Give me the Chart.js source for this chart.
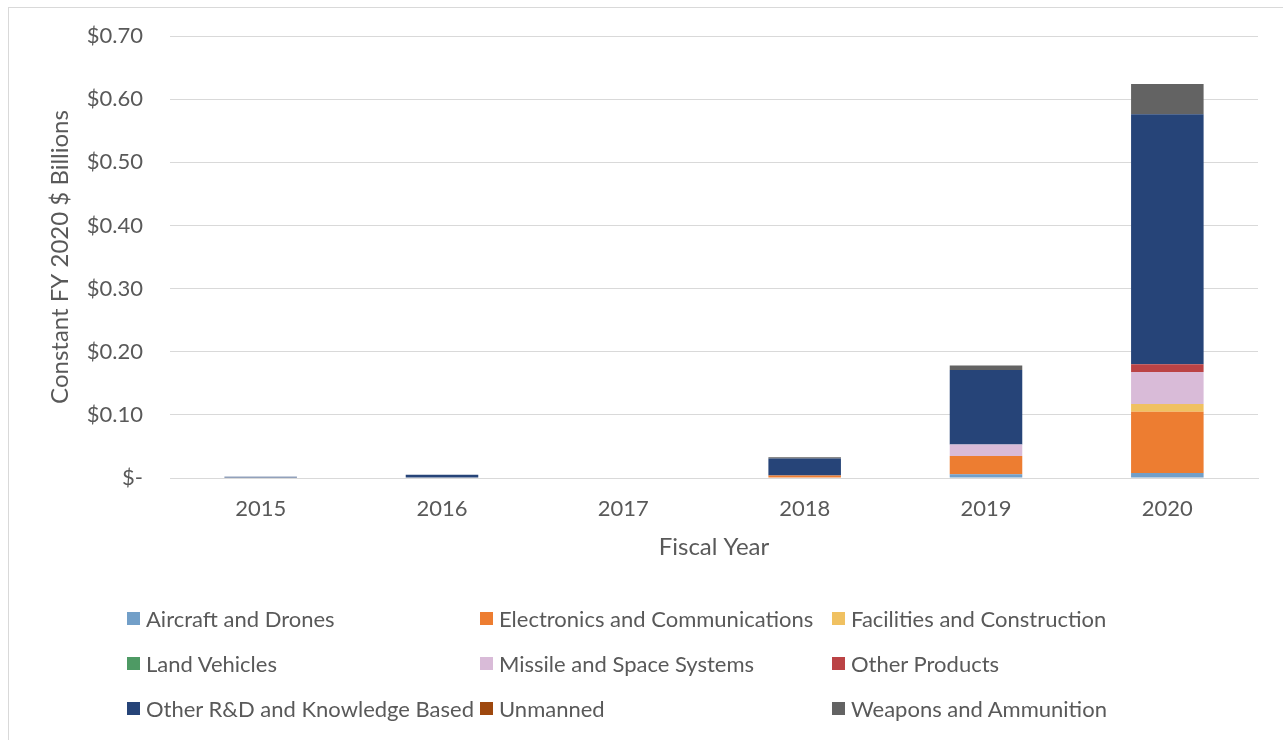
<!DOCTYPE html>
<html>
<head>
<meta charset="utf-8">
<script src="https://cdn.jsdelivr.net/npm/chart.js@4.4.1/dist/chart.umd.min.js"></script>
<style>
  html, body { margin: 0; padding: 0; background: #ffffff; }
  #wrap { position: relative; width: 1283px; height: 740px; overflow: hidden; }
  #frame { position: absolute; left: 8px; top: 7px; right: -2px; bottom: -2px; border-left: 1px solid #d9d9d9; border-top: 1px solid #d9d9d9; }
  canvas { position: absolute; left: 0; top: 0; }
  #legend { position: absolute; left: 127px; top: 603px; width: 1100px; display: grid; grid-template-columns: 353px 352px 352px; row-gap: 15px; font-family: Lato, "Open Sans", sans-serif; font-size: 22px; color: #595959; }
  .item { display: flex; align-items: center; height: 30px; white-space: nowrap; }
  .box { width: 13px; height: 13px; margin-right: 6px; flex: none; }
</style>
</head>
<body>
<div id="wrap">
  <div id="frame"></div>
  <canvas id="c" width="1283" height="740"></canvas>
  <div id="legend"></div>
</div>
<script>
const years = ['2015', '2016', '2017', '2018', '2019', '2020'];
const yTicks = [0, 0.1, 0.2, 0.3, 0.4, 0.5, 0.6, 0.7];

const aircraftDrones     = [0,     0,     0, 0,     0.006, 0.008];
const electronicsComms   = [0,     0,     0, 0.004, 0.029, 0.097];
const facilitiesConstr   = [0,     0,     0, 0,     0,     0.012];
const landVehicles       = [0,     0,     0, 0,     0,     0];
const missileSpace       = [0,     0,     0, 0,     0.018, 0.051];
const otherProducts      = [0,     0,     0, 0,     0,     0.012];
const otherRDKnowledge   = [0.002, 0.005, 0, 0.027, 0.118, 0.396];
const unmanned           = [0,     0,     0, 0,     0,     0];
const weaponsAmmunition  = [0,     0,     0, 0.002, 0.007, 0.048];

const seriesNames = [
  'Aircraft and Drones', 'Electronics and Communications', 'Facilities and Construction',
  'Land Vehicles', 'Missile and Space Systems', 'Other Products',
  'Other R&D and Knowledge Based', 'Unmanned', 'Weapons and Ammunition'
];
const seriesData = [aircraftDrones, electronicsComms, facilitiesConstr, landVehicles,
  missileSpace, otherProducts, otherRDKnowledge, unmanned, weaponsAmmunition];
const seriesColors = ['#729fc8', '#ed7d31', '#f0c161', '#4e9a64', '#d9bbd8', '#bb4345', '#264478', '#9e480e', '#636363'];

const datasets = seriesNames.map((n, i) => ({
  label: n,
  data: seriesData[i],
  backgroundColor: seriesColors[i],
  borderWidth: 0,
  categoryPercentage: 1.0,
  barPercentage: 0.4
}));

const textColor = '#595959';
const fontFam = 'Lato, "Open Sans", sans-serif';

const chart = new Chart(document.getElementById('c'), {
  type: 'bar',
  data: { labels: years, datasets: datasets },
  options: {
    responsive: false,
    animation: false,
    layout: { padding: { left: 0, right: 25, top: 36, bottom: 172 } },
    plugins: { legend: { display: false }, tooltip: { enabled: false } },
    scales: {
      x: {
        stacked: true,
        grid: { display: false, drawTicks: false },
        border: { display: true, color: '#d9d9d9', width: 1 },
        ticks: { color: textColor, font: { family: fontFam, size: 22 }, padding: 18, maxRotation: 0 },
        title: { display: true, text: 'Fiscal Year', color: textColor, font: { family: fontFam, size: 24 }, padding: { top: 0, bottom: 6 } },
        afterFit: (s) => { s.height = 90; s.paddingLeft = 0; s.paddingRight = 0; }
      },
      y: {
        stacked: true,
        min: 0, max: 0.7,
        afterBuildTicks: (s) => { s.ticks = yTicks.map(v => ({ value: v })); },
        grid: { color: '#d9d9d9', lineWidth: 1, drawTicks: false },
        border: { display: false },
        ticks: {
          color: textColor, font: { family: fontFam, size: 22 }, padding: 27,
          callback: (v) => v === 0 ? '$-' : '$' + Number(v).toFixed(2)
        },
        title: { display: true, text: 'Constant FY 2020 $ Billions', color: textColor, font: { family: fontFam, size: 24 }, padding: { top: 46, bottom: 0 } },
        afterFit: (s) => { s.width = 170; s.paddingTop = 0; s.paddingBottom = 0; }
      }
    }
  }
});

const leg = document.getElementById('legend');
chart.data.datasets.forEach(ds => {
  const it = document.createElement('div');
  it.className = 'item';
  const b = document.createElement('span');
  b.className = 'box';
  b.style.background = ds.backgroundColor;
  const t = document.createElement('span');
  t.textContent = ds.label;
  it.appendChild(b); it.appendChild(t);
  leg.appendChild(it);
});
</script>
</body>
</html>
